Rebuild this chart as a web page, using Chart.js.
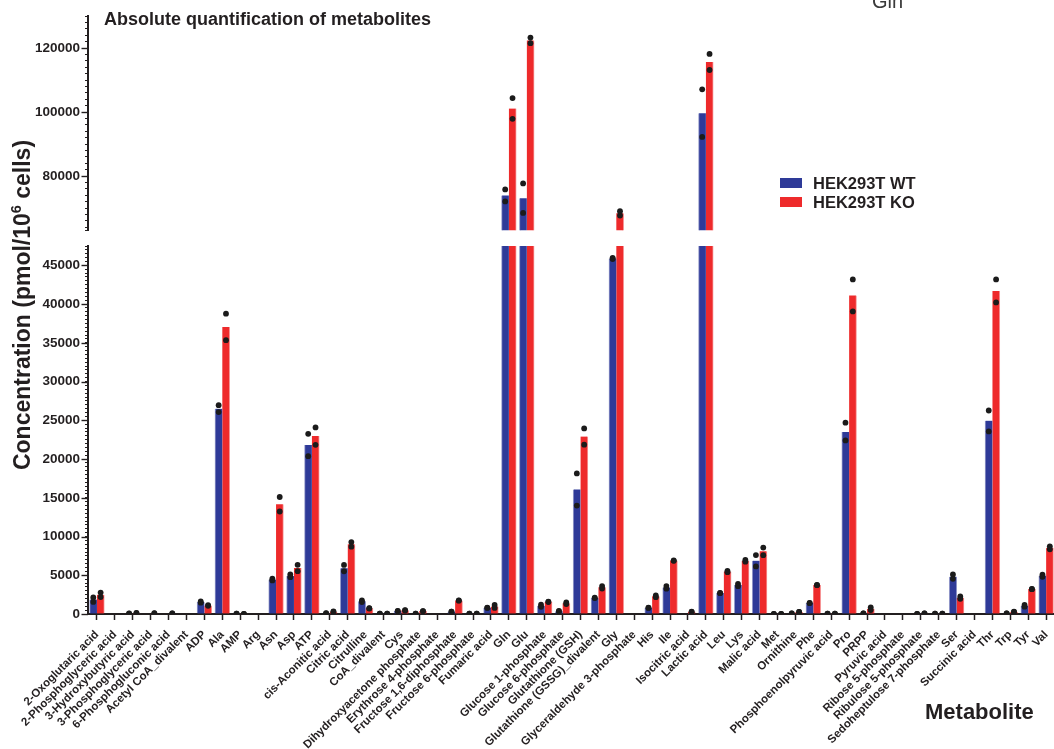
<!DOCTYPE html>
<html>
<head>
<meta charset="utf-8">
<title>Absolute quantification of metabolites</title>
<script src="https://cdn.jsdelivr.net/npm/chart.js@4.4.1/dist/chart.umd.min.js"></script>
<style>
  html, body { margin: 0; padding: 0; overflow: hidden; background: #fff; }
  canvas { display: block; }
</style>
</head>
<body>
<canvas id="chart" width="1058" height="749"></canvas>
<script>
// ---- data (pmol / 10^6 cells) ----
const metabolites = [
  '2-Oxoglutaric acid', '2-Phosphoglyceric acid', '3-Hydroxybutyric acid', '3-Phosphoglyceric acid',
  '6-Phosphogluconic acid', 'Acetyl CoA_divalent', 'ADP', 'Ala', 'AMP', 'Arg', 'Asn', 'Asp', 'ATP',
  'cis-Aconitic acid', 'Citric acid', 'Citrulline', 'CoA_divalent', 'Cys', 'Dihydroxyacetone phosphate',
  'Erythrose 4-phosphate', 'Fructose 1,6-diphosphate', 'Fructose 6-phosphate', 'Fumaric acid', 'Gln', 'Glu',
  'Glucose 1-phosphate', 'Glucose 6-phosphate', 'Glutathione (GSH)', 'Glutathione (GSSG)_divalent', 'Gly',
  'Glyceraldehyde 3-phosphate', 'His', 'Ile', 'Isocitric acid', 'Lactic acid', 'Leu', 'Lys', 'Malic acid',
  'Met', 'Ornithine', 'Phe', 'Phosphoenolpyruvic acid', 'Pro', 'PRPP', 'Pyruvic acid', 'Ribose 5-phosphate',
  'Ribulose 5-phosphate', 'Sedoheptulose 7-phosphate', 'Ser', 'Succinic acid', 'Thr', 'Trp', 'Tyr', 'Val'
];

const seriesNames = ['HEK293T WT', 'HEK293T KO'];

// group means (bar heights)
const wtMean = [1870, null, 60, null, null, null, 1540, 26500, 40, null, 4450, 4920, 21820, 100, 5920, 1660, 40, 380, 60, null,
  300, 40, 810, 73950, 73100, 1060, 360, 16080, 2080, 45900, null, 800, 3430, null, 99660, 2710, 3740, 6880, 20, 90,
  1420, 30, 23500, 90, null, null, 20, 40, 4820, null, 24950, 90, 1060, 4940];
const koMean = [2480, null, 130, 100, 80, null, 1100, 37050, 20, null, 14150, 5940, 22960, 300, 8990, 730, 50, 470, 380, null,
  1740, 40, 970, 101120, 122380, 1570, 1390, 22900, 3440, 68350, null, 2280, 6890, 280, 115650, 5480, 6860, 8090, 20, 260,
  3740, 30, 41120, 680, null, null, 90, 40, 2110, null, 41700, 280, 3220, 8540];

// individual replicates (dots)
const wtRep1 = [2130, null, 70, null, null, null, 1620, 26960, 40, null, 4560, 5100, 23260, 110, 6330, 1760, 40, 400, 60, null,
  300, 40, 830, 75830, 77700, 1200, 390, 18150, 2110, 45980, null, 820, 3600, null, 107090, 2730, 3890, 7610, 20, 90,
  1440, 30, 24690, 90, null, null, 20, 40, 5100, null, 26270, 90, 1160, 5070];
const wtRep2 = [1560, null, 50, null, null, null, 1460, 26060, 40, null, 4340, 4750, 20370, 90, 5520, 1550, 40, 360, 60, null,
  300, 40, 790, 72070, 68500, 930, 330, 14000, 2050, 45820, null, 780, 3270, null, 92230, 2690, 3590, 6140, 20, 90,
  1400, 30, 22400, 90, null, null, 20, 40, 4540, null, 23560, 90, 950, 4810];
const koRep1 = [2770, null, 140, 110, 90, null, 1150, 38760, 20, null, 15100, 6350, 24080, 320, 9290, 750, 50, 490, 380, null,
  1760, 40, 1160, 104360, 123260, 1600, 1500, 23950, 3600, 69030, null, 2390, 6920, 300, 118150, 5570, 6970, 8580, 20, 260,
  3760, 30, 43190, 860, null, null, 90, 40, 2260, null, 43190, 300, 3240, 8730];
const koRep2 = [2180, null, 120, 90, 70, null, 1050, 35350, 20, null, 13230, 5530, 21840, 280, 8690, 710, 50, 450, 380, null,
  1720, 40, 780, 97870, 121500, 1550, 1290, 21850, 3290, 67680, null, 2170, 6860, 260, 113140, 5400, 6750, 7590, 20, 260,
  3720, 30, 39060, 510, null, null, 90, 40, 1960, null, 40220, 260, 3200, 8350];

// broken value axis: upper and lower segments
const upperRange = [63000, 130000];
const lowerRange = [0, 47500];
const upperTickLabels = [80000, 100000, 120000];
const lowerTickLabels = [0, 5000, 10000, 15000, 20000, 25000, 30000, 35000, 40000, 45000];
const upperMinorStep = 2000;
const lowerMinorStep = 500;

// ---- styling ----
const FONT = '"Liberation Sans", Arial, Helvetica, sans-serif';
const INK = '#231f20';
const BLUE = '#2e3a98';
const RED = '#ee2a2b';
const BLUE_EDGE = 'rgba(46,58,152,0.5)';
const RED_EDGE = 'rgba(238,42,43,0.5)';
const GROUP_WIDTH = 0.82;          // share of a category used by the bar pair
const AXIS_W = 88;

// each bar of a pair sits a quarter of the group width off the category centre
const pairShift = GROUP_WIDTH / 4;
const toPoints = (values, shift) => values.map((v, i) => ({ x: i + shift, y: v }));
const toDots = (reps, shift) => {
  const pts = [];
  metabolites.forEach((_, i) => reps.forEach(r => { if (r[i] !== null) pts.push({ x: i + shift, y: r[i] }); }));
  return pts;
};
const wtBars = toPoints(wtMean, -pairShift);
const koBars = toPoints(koMean, pairShift);
const wtDots = toDots([wtRep1, wtRep2], -pairShift);
const koDots = toDots([koRep1, koRep2], pairShift);

function barSet(label, data, color, edge, side, axis) {
  return {
    type: 'bar', label, data, order: 2, backgroundColor: color, borderColor: edge,
    borderWidth: side === 'left' ? { left: 1, right: 0, top: 0, bottom: 0 } : { left: 0, right: 1, top: 0, bottom: 0 },
    borderSkipped: false, grouped: false, xAxisID: 'x', yAxisID: axis,
    categoryPercentage: 1.0, barPercentage: 1.0
  };
}
function dotSet(data, axis) {
  return {
    type: 'scatter', data, order: 1, xAxisID: 'x', yAxisID: axis,
    pointRadius: 2.9, pointHoverRadius: 2.9, backgroundColor: '#1b1b1b', borderWidth: 0, showLine: false
  };
}

function valueAxis(range, step, labels, weight, stackWeight) {
  return {
    type: 'linear', axis: 'y', position: 'left', stack: 'conc', stackWeight, weight,
    min: range[0], max: range[1], stacked: false, beginAtZero: false,
    border: { display: true, width: 2, color: INK },
    grid: { display: true, drawOnChartArea: false, drawTicks: true, tickLength: 3, tickWidth: 1, tickColor: INK },
    ticks: {
      autoSkip: false, padding: 5, color: INK,
      font: { family: FONT, size: 13.5, weight: 'bold' },
      callback: v => labels.includes(v) ? String(v) : ''
    },
    // minor ticks on every step inside the segment, plus both segment ends
    afterBuildTicks(s) {
      const vals = [range[0]];
      for (let v = Math.ceil(range[0] / step) * step; v <= range[1]; v += step) if (v !== range[0]) vals.push(v);
      if (vals[vals.length - 1] !== range[1]) vals.push(range[1]);
      s.ticks = vals.map(value => ({ value }));
    },
    afterFit(s) { s.width = AXIS_W; }
  };
}

// clip each dataset to its own axis segment
const segmentClip = {
  id: 'segmentClip',
  beforeDatasetDraw(chart, args) {
    const ys = args.meta.yScale;
    const top = ys.id === 'yHigh' ? 0 : ys.top;
    const bottom = ys.id === 'yLow' ? chart.height : ys.bottom;
    const ctx = chart.ctx;
    ctx.save();
    ctx.beginPath();
    ctx.rect(0, top, chart.width, bottom - top);
    ctx.clip();
  },
  afterDatasetDraw(chart) { chart.ctx.restore(); }
};

// major tick marks, titles and legend
const decorations = {
  id: 'decorations',
  afterDraw(chart) {
    const ctx = chart.ctx;
    ctx.save();
    ctx.strokeStyle = INK;
    ctx.lineWidth = 1.4;
    [['yHigh', upperTickLabels], ['yLow', lowerTickLabels]].forEach(([id, labels]) => {
      const s = chart.scales[id];
      labels.forEach(v => {
        const y = Math.round(s.getPixelForValue(v)) + 0.5;
        ctx.beginPath();
        ctx.moveTo(s.right - 6.5, y);
        ctx.lineTo(s.right, y);
        ctx.stroke();
      });
    });

    ctx.fillStyle = INK;
    ctx.textBaseline = 'alphabetic';

    // chart title
    ctx.textAlign = 'left';
    ctx.font = 'bold 18px ' + FONT;
    ctx.fillText('Absolute quantification of metabolites', 104, 25);

    // stray label at top edge
    ctx.font = '20px ' + FONT;
    ctx.fillStyle = '#3a3a3a';
    ctx.fillText('Gln', 872, 8);
    ctx.fillStyle = INK;

    // x-axis title
    ctx.font = 'bold 22px ' + FONT;
    ctx.fillText('Metabolite', 925, 719);

    // y-axis title with superscript
    const parts = [
      { t: 'Concentration (pmol/10', f: 'bold 23px ' + FONT, dy: 0 },
      { t: '6', f: 'bold 14.5px ' + FONT, dy: -9.5 },
      { t: ' cells)', f: 'bold 23px ' + FONT, dy: 0 }
    ];
    let total = 0;
    parts.forEach(p => { ctx.font = p.f; p.w = ctx.measureText(p.t).width; total += p.w; });
    ctx.save();
    ctx.translate(30, 305);
    ctx.rotate(-Math.PI / 2);
    let x = -total / 2;
    parts.forEach(p => { ctx.font = p.f; ctx.fillText(p.t, x, p.dy); x += p.w; });
    ctx.restore();

    // legend
    const colors = [BLUE, RED];
    ctx.font = 'bold 16.5px ' + FONT;
    ctx.textBaseline = 'middle';
    seriesNames.forEach((name, k) => {
      const cy = 183 + k * 19;
      ctx.fillStyle = colors[k];
      ctx.fillRect(780, cy - 5, 22, 10);
      ctx.fillStyle = INK;
      ctx.fillText(name, 813, cy + 1);
    });
    ctx.restore();
  }
};

new Chart(document.getElementById('chart'), {
  type: 'bar',
  data: {
    datasets: [
      barSet(seriesNames[0], wtBars, BLUE, BLUE_EDGE, 'left', 'yLow'),
      barSet(seriesNames[1], koBars, RED, RED_EDGE, 'right', 'yLow'),
      barSet(seriesNames[0], wtBars, BLUE, BLUE_EDGE, 'left', 'yHigh'),
      barSet(seriesNames[1], koBars, RED, RED_EDGE, 'right', 'yHigh'),
      dotSet(wtDots, 'yLow'), dotSet(koDots, 'yLow'),
      dotSet(wtDots, 'yHigh'), dotSet(koDots, 'yHigh')
    ]
  },
  options: {
    responsive: false,
    animation: false,
    events: [],
    layout: { padding: { top: 16, left: 0, right: 0, bottom: 0 } },
    plugins: { legend: { display: false }, title: { display: false }, tooltip: { enabled: false } },
    scales: {
      x: {
        type: 'linear', axis: 'x', position: 'bottom', offset: false,
        min: -0.5, max: metabolites.length - 0.5,
        border: { display: true, width: 2, color: INK },
        grid: { display: true, drawOnChartArea: false, offset: false, tickLength: 6, tickWidth: 1.5, tickColor: INK },
        ticks: {
          stepSize: 1, includeBounds: false, autoSkip: false, minRotation: 45, maxRotation: 45, padding: 8, color: INK,
          font: { family: FONT, size: 11.5, weight: 'bold' },
          callback: v => Number.isInteger(v) ? metabolites[v] : ''
        },
        afterBuildTicks(s) { s.ticks = metabolites.map((_, i) => ({ value: i })); },
        afterFit(s) { s.height = 135; s.paddingLeft = 0; s.paddingRight = 0; }
      },
      yHigh: valueAxis(upperRange, upperMinorStep, upperTickLabels, 3, 214.5),
      yGap: {
        type: 'linear', axis: 'y', position: 'left', stack: 'conc', stackWeight: 15.5, weight: 2,
        border: { display: false }, grid: { display: false }, ticks: { display: false },
        afterFit(s) { s.width = AXIS_W; }
      },
      yLow: valueAxis(lowerRange, lowerMinorStep, lowerTickLabels, 1, 368)
    }
  },
  plugins: [segmentClip, decorations]
});
</script>
</body>
</html>
